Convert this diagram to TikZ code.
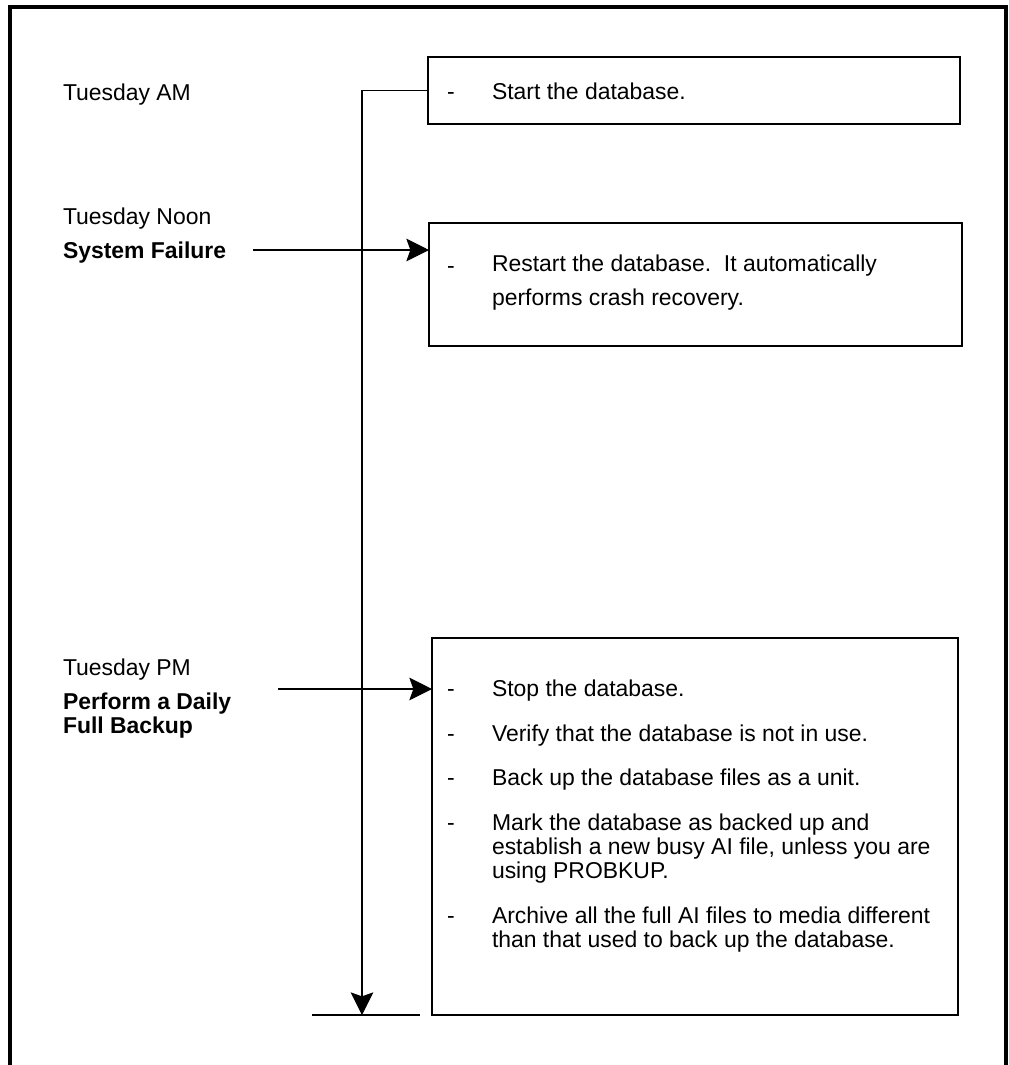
\documentclass[tikz,border=0pt]{standalone}
\usepackage{fontspec}
\setmainfont{Liberation Sans}
\usetikzlibrary{arrows.meta}
\begin{document}
\begin{tikzpicture}[x=0.75pt,y=-0.75pt,
  every node/.style={inner sep=0pt, outer sep=0pt},
  txt/.style={anchor=base west, font=\fontsize{17.2}{18}\selectfont},
  bold/.style={txt, font=\fontsize{17.2}{18}\selectfont\bfseries},
  stepbox/.style={draw, line width=0.9pt, anchor=north west},
  conn/.style={line width=0.9pt},
  arr/.style={conn, -{Stealth[length=17pt, width=17pt, inset=3pt]}}
]
\useasboundingbox (0,0) rectangle (1008,1065);
% page frame, open at the bottom
\draw[line width=3pt] (10,1065) -- (10,7) -- (1006,7) -- (1006,1065);

% time labels
\node[txt] (tam) at (63,100) {Tuesday AM};
\node[txt] (tnoon) at (63,224) {Tuesday Noon};
\node[bold] (sfail) at (63,258) {System Failure};
\node[txt] (tpm) at (63,675) {Tuesday PM};
\node[bold] (perf1) at (63,709) {Perform a Daily};
\node[bold] (perf2) at (63,733) {Full Backup};

% action boxes
\node[stepbox, minimum width=399pt, minimum height=50.25pt] (b1) at (428,57) {};
\node[stepbox, minimum width=399.75pt, minimum height=92.25pt] (b2) at (429,223) {};
\node[stepbox, minimum width=394.5pt, minimum height=282.75pt] (b3) at (432,638) {};

% box 1 text
\node[txt] (d1) at (447,99) {-};
\node[txt] (t1) at (492,99) {Start the database.};

% box 2 text
\node[txt] (d2) at (447,273) {-};
\node[txt] (t2a) at (492,271) {Restart the database.\ \ It automatically};
\node[txt] (t2b) at (492,305) {performs crash recovery.};

% box 3 text
\node[txt] (d3a) at (447,696) {-};
\node[txt] (t3a) at (492,696) {Stop the database.};
\node[txt] (d3b) at (447,741) {-};
\node[txt] (t3b) at (492,741) {Verify that the database is not in use.};
\node[txt] (d3c) at (447,785) {-};
\node[txt] (t3c) at (492,785) {Back up the database files as a unit.};
\node[txt] (d3d) at (447,830) {-};
\node[txt] (t3d1) at (492,830) {Mark the database as backed up and};
\node[txt] (t3d2) at (492,854) {establish a new busy AI file, unless you are};
\node[txt] (t3d3) at (492,878) {using PROBKUP.};
\node[txt] (d3e) at (447,923) {-};
\node[txt] (t3e1) at (492,923) {Archive all the full AI files to media different};
\node[txt] (t3e2) at (492,947) {than that used to back up the database.};

% timeline
\coordinate (tlend) at (362,1015);
\coordinate (bl) at (312,1015);
\coordinate (br) at (420,1015);
\draw[arr] (b1.west) -| (tlend);
\draw[conn] (bl) -- (br);

% event arrows
\coordinate (a2s) at (253,250);
\coordinate (a3s) at (278,689);
\draw[arr] (a2s) -- (a2s -| b2.west);
\draw[arr] (a3s) -- (a3s -| b3.west);
\end{tikzpicture}
\end{document}
